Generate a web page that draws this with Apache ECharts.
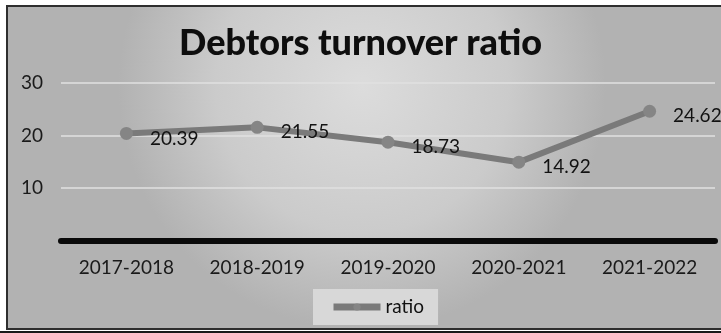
<!DOCTYPE html>
<html>
<head>
<meta charset="utf-8">
<script src="https://cdn.jsdelivr.net/npm/echarts@6/dist/echarts.min.js"></script>
<style>
  html, body { margin: 0; padding: 0; background: #ffffff; }
  #chart { width: 721px; height: 333px; }
</style>
</head>
<body>
<div id="chart"></div>
<script>
// Debtors turnover ratio by financial year
const years = ['2017-2018', '2018-2019', '2019-2020', '2020-2021', '2021-2022'];
const ratio = [20.39, 21.55, 18.73, 14.92, 24.62];
const seriesName = 'ratio';
const titleText = 'Debtors turnover ratio';
const yTicks = { min: 0, max: 30, interval: 10 };

const FONT = 'Lato';
const chart = echarts.init(document.getElementById('chart'));

chart.setOption({
  backgroundColor: '#ffffff',
  animation: false,
  graphic: [
    {
      // grey panel with soft radial shading and a dark frame on the left/top
      type: 'rect',
      z: -10,
      shape: { x: 7, y: 6, width: 740, height: 323 },
      style: {
        fill: {
          type: 'radial', x: 0.48, y: 0.25, r: 0.75,
          colorStops: [
            { offset: 0, color: '#dcdcdc' },
            { offset: 0.6, color: '#cbcbcb' },
            { offset: 1, color: '#b2b2b2' }
          ]
        },
        stroke: '#2e2e2e',
        lineWidth: 2
      }
    },
    {
      type: 'rect',
      z: -9,
      shape: { x: 0, y: 331, width: 721, height: 2 },
      style: { fill: '#1a1a1a' }
    }
  ],
  title: {
    text: titleText,
    left: 'center',
    top: 20,
    textStyle: { fontFamily: FONT, fontWeight: 900, fontSize: 36, color: '#0e0e0e' }
  },
  grid: { left: 61, right: 6, top: 83, bottom: 92.5 },
  legend: {
    data: [seriesName],
    left: 313,
    top: 289,
    padding: [8, 14, 8, 17],
    backgroundColor: '#d8d8d8',
    itemWidth: 47,
    itemHeight: 9,
    itemGap: 5,
    lineStyle: { width: 7 },
    textStyle: { fontFamily: FONT, fontSize: 19, color: '#111111', lineHeight: 20 }
  },
  xAxis: {
    type: 'category',
    data: years,
    boundaryGap: true,
    axisLine: { show: true, lineStyle: { color: '#0a0a0a', width: 6 } },
    axisTick: { show: false },
    axisLabel: { fontFamily: FONT, fontSize: 19, color: '#1a1a1a', margin: 17, lineHeight: 20 }
  },
  yAxis: {
    type: 'value',
    min: yTicks.min,
    max: yTicks.max,
    interval: yTicks.interval,
    axisLine: { show: false },
    axisTick: { show: false },
    splitLine: { lineStyle: { color: '#e0e0e0', width: 1.5 } },
    axisLabel: {
      fontFamily: FONT, fontSize: 19, color: '#1a1a1a', margin: 18,
      padding: [6, 0, 0, 0],
      formatter: v => (v === 0 ? '' : String(v))
    }
  },
  series: [{
    name: seriesName,
    type: 'line',
    data: ratio,
    symbol: 'circle',
    symbolSize: 13,
    lineStyle: { width: 6, color: '#7a7a7a' },
    itemStyle: { color: '#858585' },
    label: {
      show: true,
      position: 'right',
      distance: 17,
      offset: [0, 5],
      fontFamily: FONT,
      fontSize: 19,
      color: '#121212',
      formatter: p => p.value.toFixed(2)
    }
  }]
});
</script>
</body>
</html>
